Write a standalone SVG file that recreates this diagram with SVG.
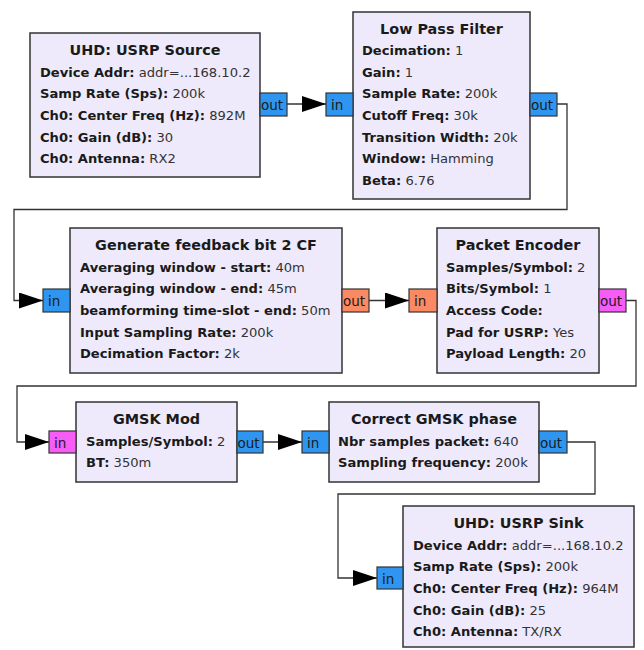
<svg xmlns="http://www.w3.org/2000/svg" width="644" height="650" viewBox="0 0 644 650">
<defs>
<style>
.box{fill:#eeeafb;stroke:#333;stroke-width:1.5}
.t{font-family:"DejaVu Sans",sans-serif;font-size:13.1px;fill:#1a1a1a}
.ttl{font-weight:bold;text-anchor:middle;font-size:14.4px}
.k{font-weight:bold}
.v{font-weight:normal;fill:#333}
.pb{fill:#2e96f0;stroke:#333;stroke-width:1.2}
.po{fill:#fb8a64;stroke:#333;stroke-width:1.2}
.pm{fill:#f75cf7;stroke:#333;stroke-width:1.2}
.pl{font-family:"DejaVu Sans",sans-serif;font-size:13.5px;fill:#1a1a1a}
.c{fill:none;stroke:#333;stroke-width:1.3}
</style>
<marker id="ah" viewBox="0 0 24 16" refX="24" refY="8" markerWidth="24" markerHeight="16" markerUnits="userSpaceOnUse" orient="auto">
<path d="M0,0 L24,8 L0,16 Z" fill="#000"/>
</marker>
</defs>
<rect width="644" height="650" fill="#fff"/>

<g id="connectors">
<path class="c" d="M287,104 H326" marker-end="url(#ah)"/>
<path class="c" d="M557,104 H567 V209.5 H14 V300.5 H43" marker-end="url(#ah)"/>
<path class="c" d="M369,300.5 H409" marker-end="url(#ah)"/>
<path class="c" d="M626,300.5 H636 V386 H17 V442 H49" marker-end="url(#ah)"/>
<path class="c" d="M263,442 H302" marker-end="url(#ah)"/>
<path class="c" d="M567,442 H595 V494 H338 V578 H377" marker-end="url(#ah)"/>
</g>

<g id="usrp_source">
<rect class="box" x="30" y="33" width="230" height="144"/>
<text class="t ttl" x="145" y="55">UHD: USRP Source</text>
<text class="t" x="40" y="76.7"><tspan class="k">Device Addr:</tspan> <tspan class="v">addr=...168.10.2</tspan></text>
<text class="t" x="40" y="98.3"><tspan class="k">Samp Rate (Sps):</tspan> <tspan class="v">200k</tspan></text>
<text class="t" x="40" y="120"><tspan class="k">Ch0: Center Freq (Hz):</tspan> <tspan class="v">892M</tspan></text>
<text class="t" x="40" y="141.7"><tspan class="k">Ch0: Gain (dB):</tspan> <tspan class="v">30</tspan></text>
<text class="t" x="40" y="163.3"><tspan class="k">Ch0: Antenna:</tspan> <tspan class="v">RX2</tspan></text>
<rect class="pb" x="260" y="93" width="27" height="23"/>
<text class="pl" x="261" y="110">out</text>
</g>

<g id="low_pass_filter">
<rect class="box" x="353" y="12" width="177" height="187"/>
<text class="t ttl" x="441.5" y="33.5">Low Pass Filter</text>
<text class="t" x="362" y="55"><tspan class="k">Decimation:</tspan> <tspan class="v">1</tspan></text>
<text class="t" x="362" y="76.7"><tspan class="k">Gain:</tspan> <tspan class="v">1</tspan></text>
<text class="t" x="362" y="98.3"><tspan class="k">Sample Rate:</tspan> <tspan class="v">200k</tspan></text>
<text class="t" x="362" y="120"><tspan class="k">Cutoff Freq:</tspan> <tspan class="v">30k</tspan></text>
<text class="t" x="362" y="141.7"><tspan class="k">Transition Width:</tspan> <tspan class="v">20k</tspan></text>
<text class="t" x="362" y="163.3"><tspan class="k">Window:</tspan> <tspan class="v">Hamming</tspan></text>
<text class="t" x="362" y="185"><tspan class="k">Beta:</tspan> <tspan class="v">6.76</tspan></text>
<rect class="pb" x="326" y="93" width="27" height="23"/>
<text class="pl" x="331" y="110">in</text>
<rect class="pb" x="530" y="93" width="27" height="23"/>
<text class="pl" x="531" y="110">out</text>
</g>

<g id="feedback_bit">
<rect class="box" x="70" y="228" width="272" height="145"/>
<text class="t ttl" x="206" y="250">Generate feedback bit 2 CF</text>
<text class="t" x="80" y="271.7"><tspan class="k">Averaging window - start:</tspan> <tspan class="v">40m</tspan></text>
<text class="t" x="80" y="293.3"><tspan class="k">Averaging window - end:</tspan> <tspan class="v">45m</tspan></text>
<text class="t" x="80" y="315"><tspan class="k">beamforming time-slot - end:</tspan> <tspan class="v">50m</tspan></text>
<text class="t" x="80" y="336.7"><tspan class="k">Input Sampling Rate:</tspan> <tspan class="v">200k</tspan></text>
<text class="t" x="80" y="358.3"><tspan class="k">Decimation Factor:</tspan> <tspan class="v">2k</tspan></text>
<rect class="pb" x="43" y="289" width="27" height="23"/>
<text class="pl" x="48" y="306">in</text>
<rect class="po" x="342" y="289" width="27" height="23"/>
<text class="pl" x="343" y="306">out</text>
</g>

<g id="packet_encoder">
<rect class="box" x="437" y="228" width="162" height="145"/>
<text class="t ttl" x="518" y="250">Packet Encoder</text>
<text class="t" x="446" y="271.7"><tspan class="k">Samples/Symbol:</tspan> <tspan class="v">2</tspan></text>
<text class="t" x="446" y="293.3"><tspan class="k">Bits/Symbol:</tspan> <tspan class="v">1</tspan></text>
<text class="t" x="446" y="315"><tspan class="k">Access Code:</tspan></text>
<text class="t" x="446" y="336.7"><tspan class="k">Pad for USRP:</tspan> <tspan class="v">Yes</tspan></text>
<text class="t" x="446" y="358.3"><tspan class="k">Payload Length:</tspan> <tspan class="v">20</tspan></text>
<rect class="po" x="409" y="289" width="28" height="23"/>
<text class="pl" x="414" y="306">in</text>
<rect class="pm" x="599" y="289" width="27" height="23"/>
<text class="pl" x="600" y="306">out</text>
</g>

<g id="gmsk_mod">
<rect class="box" x="76" y="402" width="161" height="80"/>
<text class="t ttl" x="156.5" y="424">GMSK Mod</text>
<text class="t" x="86" y="445.7"><tspan class="k">Samples/Symbol:</tspan> <tspan class="v">2</tspan></text>
<text class="t" x="86" y="467.3"><tspan class="k">BT:</tspan> <tspan class="v">350m</tspan></text>
<rect class="pm" x="49" y="431" width="27" height="22"/>
<text class="pl" x="54" y="447.5">in</text>
<rect class="pb" x="237" y="431" width="26" height="22"/>
<text class="pl" x="237.5" y="447.5">out</text>
</g>

<g id="correct_gmsk_phase">
<rect class="box" x="329" y="402" width="210" height="80"/>
<text class="t ttl" x="434" y="424">Correct GMSK phase</text>
<text class="t" x="338" y="445.7"><tspan class="k">Nbr samples packet:</tspan> <tspan class="v">640</tspan></text>
<text class="t" x="338" y="467.3"><tspan class="k">Sampling frequency:</tspan> <tspan class="v">200k</tspan></text>
<rect class="pb" x="302" y="431" width="27" height="22"/>
<text class="pl" x="307" y="447.5">in</text>
<rect class="pb" x="539" y="431" width="28" height="22"/>
<text class="pl" x="540" y="447.5">out</text>
</g>

<g id="usrp_sink">
<rect class="box" x="403" y="506" width="231" height="141"/>
<text class="t ttl" x="518.5" y="528">UHD: USRP Sink</text>
<text class="t" x="413" y="549.7"><tspan class="k">Device Addr:</tspan> <tspan class="v">addr=...168.10.2</tspan></text>
<text class="t" x="413" y="571.3"><tspan class="k">Samp Rate (Sps):</tspan> <tspan class="v">200k</tspan></text>
<text class="t" x="413" y="593"><tspan class="k">Ch0: Center Freq (Hz):</tspan> <tspan class="v">964M</tspan></text>
<text class="t" x="413" y="614.7"><tspan class="k">Ch0: Gain (dB):</tspan> <tspan class="v">25</tspan></text>
<text class="t" x="413" y="636.3"><tspan class="k">Ch0: Antenna:</tspan> <tspan class="v">TX/RX</tspan></text>
<rect class="pb" x="377" y="567" width="26" height="22"/>
<text class="pl" x="382" y="583.5">in</text>
</g>
</svg>
